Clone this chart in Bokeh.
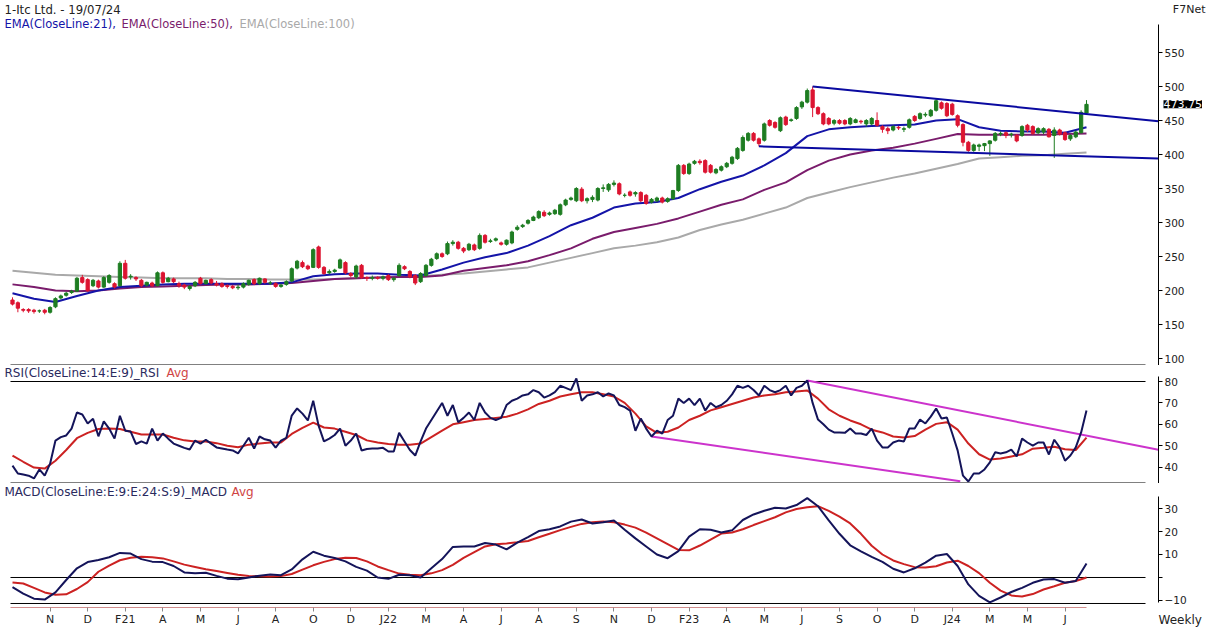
from bokeh.plotting import figure
from bokeh.layouts import column
from bokeh.models import Range1d, FixedTicker, Label, ColumnDataSource
from bokeh.embed import file_html
from bokeh.resources import INLINE

# ---------------- data (weekly bars) ----------------
opens = [186,182,172,172,171,170,171,168,176,189,
         193,197,199,219,216,207,214,205,212,210,
         207,240,220,219,215,208,211,207,226,213,
         217,210,208,203,207,218,210,216,210,210,
         207,206,204,205,209,216,210,217,211,210,
         206,209,214,233,241,236,234,264,234,226,
         228,233,241,225,220,237,219,218,219,218,
         222,216,222,235,228,222,213,222,237,247,
         254,254,269,271,262,260,267,262,281,272,
         274,270,268,270,290,294,299,303,307,315,
         312,313,312,326,334,332,349,332,334,333,
         350,348,356,357,340,345,342,344,340,330,
         332,336,331,335,347,384,372,387,390,391,
         384,373,377,382,387,394,406,421,431,423,
         421,450,447,435,455,450,453,470,477,495,
         469,460,453,446,450,450,445,447,449,445,
         445,450,441,438,436,440,437,440,456,453,
         458,457,465,476,475,474,457,444,418,406,
         412,413,416,421,430,432,429,428,428,443,
         441,432,433,437,428,436,432,423,426,432,
         461]
highs = [190,184,174,174,173,172,173,177,190,194,
         198,201,220,223,218,217,216,221,224,212,
         243,245,224,221,217,213,213,228,228,220,
         219,213,210,208,214,220,216,218,214,212,
         209,208,209,212,216,218,219,218,214,212,
         210,215,234,245,244,238,262,266,236,231,
         232,247,243,227,238,239,221,222,221,222,
         224,220,240,237,230,224,227,239,248,256,
         256,272,274,273,264,270,269,284,283,276,
         278,272,275,288,296,298,305,310,318,318,
         316,320,328,335,338,352,352,337,340,352,
         356,358,362,359,343,347,346,346,342,336,
         338,338,337,348,386,386,388,392,393,393,
         386,380,384,389,398,411,428,433,433,425,
         447,452,449,456,457,453,471,479,497,500,
         471,462,455,452,452,452,455,453,451,452,
         455,462,443,441,443,442,441,453,458,462,
         462,467,482,478,477,476,459,446,420,416,
         416,417,421,433,434,434,432,430,443,445,
         443,440,440,439,440,438,434,430,435,465,
         480]
lows = [178,168,168,167,166,167,165,166,174,187,
        191,195,198,210,198,205,203,204,210,203,
        206,216,216,214,205,206,205,206,210,212,
        211,204,202,200,205,209,209,209,206,204,
        203,202,201,203,207,208,208,210,208,204,
        204,207,212,231,233,230,233,232,223,224,
        226,232,224,219,217,217,214,215,216,215,
        214,213,220,230,218,208,211,220,235,245,
        248,252,266,260,255,258,258,260,269,270,
        272,266,266,268,288,292,297,302,305,308,
        310,311,310,324,332,330,330,328,330,331,
        345,345,353,340,337,338,338,330,326,328,
        330,328,329,333,345,370,370,385,385,372,
        372,371,375,380,385,392,404,419,419,412,
        419,441,438,433,442,448,451,467,475,455,
        458,443,443,443,444,443,443,446,445,441,
        443,441,432,430,434,436,433,438,448,451,
        455,455,463,466,455,457,440,412,404,404,
        405,405,398,419,427,424,425,418,426,433,
        429,430,430,425,395,428,420,420,424,431,
        459]
closes = [180,174,171,170,169,170,168,175,188,192,
          196,199,218,212,200,215,205,219,222,205,
          240,218,221,217,207,212,207,226,212,218,
          213,207,205,206,212,210,215,211,208,206,
          206,204,205,210,215,210,218,212,211,206,
          208,213,232,243,235,232,260,234,225,228,
          230,245,226,222,236,219,218,219,218,220,
          216,218,237,232,220,211,225,237,246,254,
          250,269,271,262,258,268,260,281,271,273,
          276,268,274,286,293,296,303,308,316,310,
          314,318,326,333,336,350,332,335,337,350,
          351,356,358,342,340,340,344,332,328,334,
          336,330,335,347,384,372,386,390,388,374,
          374,378,382,387,396,409,425,431,421,416,
          445,443,440,454,444,451,469,477,494,469,
          460,445,445,450,446,445,453,451,448,450,
          453,443,437,435,441,439,438,451,450,460,
          459,465,479,468,457,459,443,418,406,414,
          414,416,420,431,431,428,430,420,441,436,
          431,438,438,426,436,430,422,428,433,462,
          473.75]

# moving averages of price, read every 4th bar
ema_bars = list(range(0, 201, 4))
ema21 = [196,188,183,192,200,205,207,209,210,210,210,210,210,212,221,224,225,225,223,222,
         231,241,249,255,266,280,296,307,322,328,330,336,349,360,369,384,402,427,437,440,
         442,443,444,450,452,440,435,434,434,432,440]
ema50 = [209,205,200,199,200,203,205,206,207,208,209,209,210,211,214,217,218,219,220,220,
         222,229,233,237,243,252,262,276,286,292,298,306,316,326,334,348,359,377,391,400,
         406,410,416,423,430,429,429,429,429,430,431]
ema100 = [229,226,223,222,221,220,219,218,218,218,217,217,216,216,216,217,218,219,220,221,
          223,225,228,231,234,241,248,255,262,266,271,278,289,297,304,313,322,336,344,352,
          359,366,372,379,386,394,396,398,399,401,403]

# RSI, one value per bar
rsi = [40.7,37,36.5,36,34.7,38.9,36,41.6,52.4,54,
       54.8,58,65.5,64.6,60.4,62.6,54.4,61.4,58,53.3,
       64,57,56.6,50.8,52,51,58,52.4,55.7,53.3,
       51,50,49,48.2,52.4,51,52.8,51,49.2,48.7,
       48.2,47.8,46.4,50,53.7,48.7,54.3,53,52.4,49.1,
       52.4,53.7,64.1,67.4,65,61.8,71,59.4,52,53.3,
       55,58,50,52.4,55.7,47.8,48.5,48.7,48.7,49,
       47.3,47.3,56,52,48,45.4,52,58,62,66,
       70,64,69,61,63,65.5,62,70,65.5,63,
       62,63,69,71,72,73.5,74,76,75,72.5,
       73.5,75,78,77,76,81.4,71,73.5,74,75,
       73,74.4,73.5,69,68,66.4,57,62.7,58,54.3,
       57,55.7,62,64,72,70,72,69,72,66.4,
       70,68,69,71,74,78,77,78,76,73.5,
       78,76,75,76,78,73.5,77,78,80.5,70,
       62.2,60,57.5,56.2,56.2,56,58,55.7,55.7,55,
       58,52.4,49.2,49.2,51.5,52.4,52,58,58,62.2,
       60.4,63.6,67.4,62.7,63.2,55.7,47.8,36,33.3,37,
       37,38.9,42.2,46.9,46.4,46.9,48.2,45,53.3,51.5,
       50,51.5,51.5,45.9,52.8,49.2,43,45.4,49.2,56.2,
       66.4]

# indicator lines read every 2nd bar
ind_bars = list(range(0, 201, 2))
rsi_avg = [45.4,42.5,39.8,39.3,43,48,53.5,56,57.8,58,
           57.8,56.5,55.2,55.2,55.2,53.7,52.5,52,52,51.2,
           50,49.3,50.5,51,51.5,51.5,55.5,58.3,60.8,58.5,
           58,56.5,55,52.5,51.5,50.8,50.5,50.5,51,54,
           57,60,61,62,62.5,63,63.5,65,67,69.5,
           71,73,74,75,75,74,73,70,65,59,
           56,56.5,58.5,62,64,66.5,68,69.5,71,72.5,
           73.5,74,75,75.3,75.8,72,67,64,61.8,60,
           57.5,56.2,54.3,53.8,54.5,57.5,60.2,61,57.5,51,
           46,43.5,44,45,46,48.6,49,49.5,48.3,48,
           53.8]
macd = [-4.2,-7,-9.2,-9.6,-6.5,-1.1,4,6.7,7.6,8.8,
        10.7,10.4,8,6.9,6.7,5,2.2,1.9,2.1,0.7,
        -0.5,-0.8,0,0.8,1.3,1,3.5,7.9,11.2,9.5,
        8.5,7,4.6,3,0,-0.6,1.2,1.0,0,4,
        8,13.3,13.5,13.5,15,14.3,12.2,15.2,17.6,20.2,
        21,22.2,24.3,25.2,23.5,24,24.8,20.8,17,13.5,
        10,8.4,11.5,17.8,21,20.8,19.6,20.5,25,27.4,
        29,30.3,30,31.5,34.5,31,24.8,19,14,11.4,
        9,6.8,3.8,2.2,4,6.5,9.5,10.2,5,-3,
        -8,-10.8,-8.7,-6.3,-4.5,-2.3,-0.9,-0.7,-2.3,-1.5,
        6.1]
macd_avg = [-2.2,-2.6,-4.5,-6.5,-7.5,-7.3,-5.0,-2,2.5,5.2,
            7.5,8.6,9.0,8.8,8.3,7.0,5.6,4.6,3.6,2.8,
            2.0,1.2,0.7,0.5,0.4,0.6,1.5,3.4,5.3,6.8,
            8,8.6,8.5,7,4.8,3.2,1.7,1.2,1.0,1.8,
            3.2,5.5,8.5,11,13.5,14.5,14.8,15.3,15.9,17.5,
            19,20.6,22,23.3,24,24.3,24,23,21.7,19.5,
            17,14.5,12,11.8,13.9,16.5,19.1,19.6,21,22.8,
            24.5,26.2,28.3,29.8,30.5,31,29,26.5,23.5,19,
            13.8,10,7.4,5.8,4.5,4.3,4.9,6.5,7.3,5,
            1.9,-2.3,-5.7,-7.8,-8.3,-7.2,-5.2,-3.8,-2.3,-1.5,
            0]

# trend lines (bar, value)
price_upper_x, price_upper_y = [149, 213.4], [500, 449]
price_lower_x, price_lower_y = [139, 213.4], [412, 394]
rsi_upper_x, rsi_upper_y = [148, 213.4], [80.5, 48.1]
rsi_lower_x, rsi_lower_y = [119, 176.5], [54.3, 33.4]

tick_bars = [7,14,21,28,35,42,49,56,63,70,77,84,91,98,105,112,119,126,133,140,147,154,161,168,175,182,189,196]
tick_labels = ["N","D","F21","A","M","J","A","O","D","J22","M","A","J","A","S","N","D","F23","A","M","J","S","O","D","J24","M","M","J"]

price_ticks = [100,150,200,250,300,350,400,450,500,550]
rsi_ticks = [40,50,60,70,80]
macd_ticks = [-10,0,10,20,30]

# ---------------- layout constants (pixels) ----------------
W = 1210
PX_PER_BAR = 5.37
BAR0_PX = 12.0
AXIS_PX = 1158.0                      # right value axis
LINE_L_PX, LINE_R_PX = 10.0, 1145.0   # panel separator lines


def px_to_bar(px):
    return (px - BAR0_PX) / PX_PER_BAR


AXIS_BAR = px_to_bar(AXIS_PX)
LINE_L, LINE_R = px_to_bar(LINE_L_PX), px_to_bar(LINE_R_PX)
xr = Range1d(px_to_bar(0), px_to_bar(W))

FONT = "DejaVu Sans"
GREEN = "#1e7d22"
RED = "#dc1431"
C21 = "#1414a8"
C50 = "#7a1c6c"
C100 = "#a9a9a9"
NAVY = "#14145a"
AVGRED = "#cc2222"
TREND = "#0a0aa0"
MAG = "#cc33cc"


def make_fig(h, yr, ticks, bounds, xaxis=False):
    p = figure(width=W, height=h, x_range=xr, y_range=yr, output_backend="svg",
               toolbar_location=None, y_axis_location="right",
               x_axis_location="below" if xaxis else None,
               min_border=0, min_border_left=0, min_border_right=0,
               min_border_top=0, min_border_bottom=0)
    p.outline_line_color = None
    p.grid.visible = False
    p.background_fill_color = "white"
    p.border_fill_color = "white"
    ya = p.yaxis[0]
    ya.fixed_location = AXIS_BAR
    ya.bounds = bounds
    ya.ticker = FixedTicker(ticks=ticks)
    ya.axis_line_color = "black"
    ya.major_tick_line_color = "black"
    ya.major_tick_out = 4
    ya.major_tick_in = 0
    ya.minor_tick_line_color = None
    ya.major_label_standoff = 2
    ya.major_label_text_font = FONT
    ya.major_label_text_font_size = "10.5px"
    ya.major_label_text_color = "#222222"
    return p


def label(p, x, y, text, color, size, align="left"):
    p.add_layout(Label(x=x, y=y, x_units="screen", y_units="screen", text=text,
                       text_color=color, text_font=FONT, text_font_size=size,
                       text_align=align, text_baseline="middle"))


# ---------------- price panel (page y 0..365) ----------------
P_H = 365
p1 = make_fig(P_H, Range1d(89.71, 626.47), price_ticks, (90.44, 591.2))
src = ColumnDataSource(dict(
    bar=list(range(len(closes))), o=opens, h=highs, l=lows, c=closes,
    top=[max(a, b) for a, b in zip(opens, closes)],
    bot=[min(a, b) for a, b in zip(opens, closes)],
    col=[GREEN if c >= o else RED for o, c in zip(opens, closes)]))
p1.line(ema_bars, ema100, line_color=C100, line_width=2)
p1.line(ema_bars, ema50, line_color=C50, line_width=2)
p1.line(ema_bars, ema21, line_color=C21, line_width=2)
p1.segment(x0="bar", y0="l", x1="bar", y1="h", source=src, line_color="col", line_width=1)
p1.vbar(x="bar", width=0.6, top="top", bottom="bot", source=src,
        fill_color="col", line_color="col", line_width=1)
p1.line(price_upper_x, price_upper_y, line_color=TREND, line_width=2)
p1.line(price_lower_x, price_lower_y, line_color=TREND, line_width=2)
# separator between price and RSI panels
p1.segment(x0=[LINE_L], y0=[90.44], x1=[LINE_R], y1=[90.44], line_color="black", line_width=1)

label(p1, 4, P_H - 9, "1-Itc Ltd. - 19/07/24", "#222222", "11.7px")
label(p1, 1205, P_H - 9, "F7Net", "#222222", "11px", align="right")
label(p1, 4, P_H - 23, "EMA(CloseLine:21),", C21, "11.5px")
label(p1, 121, P_H - 23, "EMA(CloseLine:50),", C50, "11.5px")
label(p1, 239, P_H - 23, "EMA(CloseLine:100)", C100, "11.5px")
p1.add_layout(Label(x=AXIS_PX + 5, y=closes[-1], x_units="screen", y_units="data",
                    text=f"{closes[-1]:.2f}", text_color="white", text_font=FONT,
                    text_font_size="11px", text_baseline="middle",
                    background_fill_color="black"))

# ---------------- RSI panel (page y 365..483) ----------------
R_H = 118
rsi_lo, rsi_hi = 32.34, 87.48
p2 = make_fig(R_H, Range1d(rsi_lo, rsi_hi), rsi_ticks, (rsi_lo, 82.3))
sep_y = [80, rsi_lo + 0.23]
p2.segment(x0=[LINE_L] * 2, y0=sep_y, x1=[LINE_R] * 2, y1=sep_y, line_color="black", line_width=1)
p2.line(rsi_lower_x, rsi_lower_y, line_color=MAG, line_width=2)
p2.line(rsi_upper_x, rsi_upper_y, line_color=MAG, line_width=2)
p2.line(ind_bars, rsi_avg, line_color=AVGRED, line_width=2)
p2.line(list(range(len(rsi))), rsi, line_color=NAVY, line_width=2)
label(p2, 4, R_H - 7, "RSI(CloseLine:14:E:9)_RSI", "#2a2a5e", "12px")
label(p2, 166, R_H - 7, "Avg", "#d04444", "12px")

# ---------------- MACD panel (page y 483..627) ----------------
M_H = 144
macd_lo, macd_hi = -21.74, 40.87
p3 = make_fig(M_H, Range1d(macd_lo, macd_hi), macd_ticks, (-10.9, 35.2), xaxis=True)
p3.yaxis[0].major_label_overrides = {0: ""}
sep_m = [0, -11.3]
p3.segment(x0=[LINE_L] * 2, y0=sep_m, x1=[LINE_R] * 2, y1=sep_m, line_color="black", line_width=1)
p3.line(ind_bars, macd_avg, line_color=AVGRED, line_width=2)
p3.line(ind_bars, macd, line_color=NAVY, line_width=2)
label(p3, 4, M_H - 8, "MACD(CloseLine:E:9:E:24:S:9)_MACD", "#2a2a5e", "12px")
label(p3, 231, M_H - 8, "Avg", "#d04444", "12px")
label(p3, AXIS_PX, 8, "Weekly", "#222222", "12px")

xa = p3.xaxis[0]
xa.fixed_location = -13.04
xa.ticker = FixedTicker(ticks=tick_bars)
xa.major_label_overrides = dict(zip(tick_bars, tick_labels))
xa.bounds = (LINE_L, len(closes) - 1)
xa.axis_line_color = "#d08c8c"
xa.major_tick_line_color = "#888888"
xa.major_tick_out = 4
xa.major_tick_in = 0
xa.minor_tick_line_color = None
xa.major_label_standoff = 2
xa.major_label_text_font = FONT
xa.major_label_text_font_size = "11px"
xa.major_label_text_color = "#222222"

layout = column(p1, p2, p3, spacing=0)
open("out.html", "w").write(file_html(layout, INLINE))
